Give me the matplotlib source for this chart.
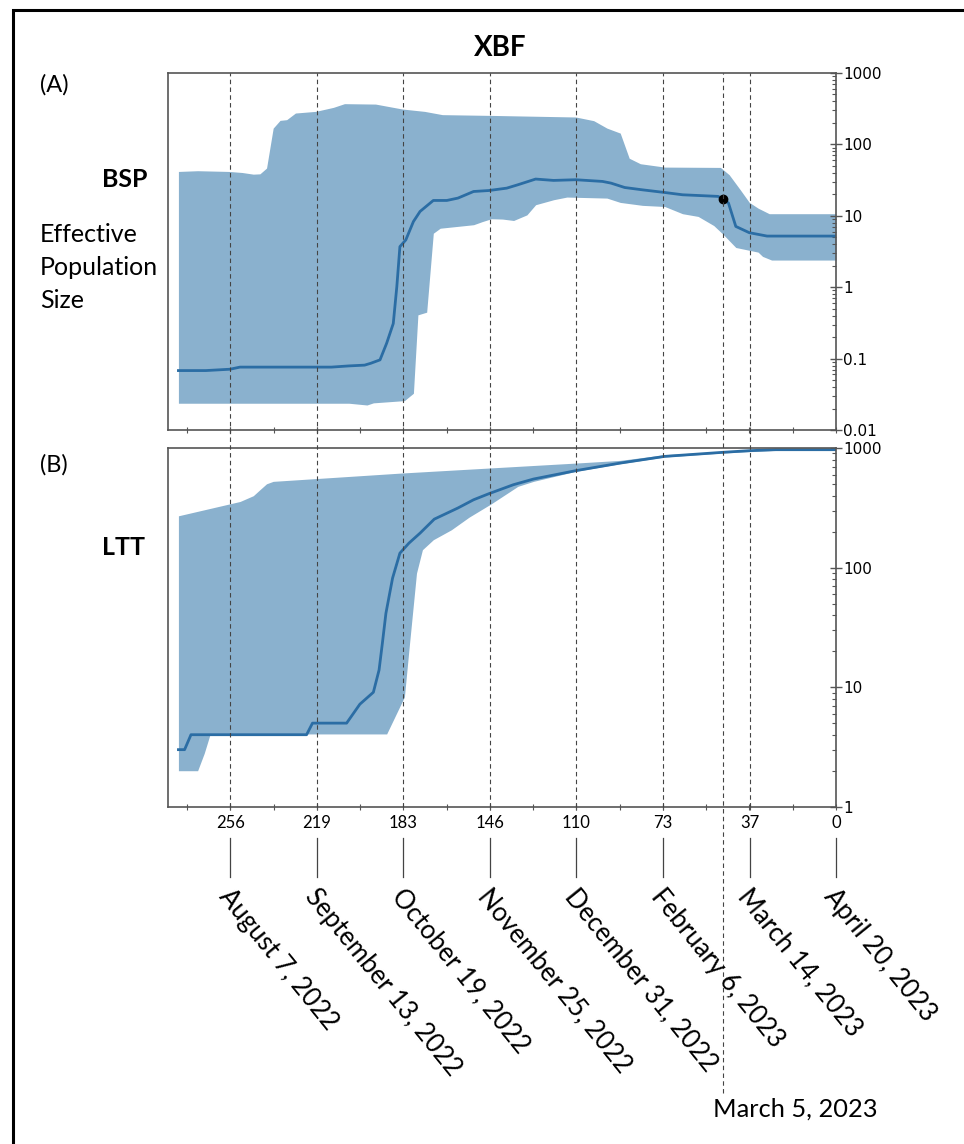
import matplotlib
matplotlib.use("Agg")
import numpy as np
import matplotlib.pyplot as plt
import matplotlib.transforms as mtransforms
from matplotlib.patches import Rectangle
from matplotlib.lines import Line2D

plt.rcParams['font.family'] = ['Lato', 'DejaVu Sans']

# ---- data (days before April 20, 2023) ----
bsp_days = [277.6, 266, 255.8, 251.6, 213, 205.6, 199, 196.4, 192.5, 189.7, 186.9, 185.4, 184.1,
            181.6, 178.4, 175.6, 170, 164.3, 159.6, 153, 146.5, 139, 134.3, 126.8, 119.2, 109.9,
            98.6, 95, 89.2, 81.7, 72.3, 64.8, 49.8, 47.5, 45.4, 42.3, 36.6, 29.1, 0]
bsp_median = [0.068, 0.068, 0.071, 0.076, 0.076, 0.079, 0.081, 0.086, 0.096, 0.164, 0.31, 1.02, 3.7,
              4.6, 8.3, 11.5, 16.4, 16.4, 17.7, 21.9, 22.6, 24.4, 27.2, 32.7, 31.3, 32,
              30.3, 28.7, 24.9, 23.1, 21.2, 19.7, 18.7, 17.1, 15.1, 7.1, 5.8, 5.2, 5.2]

bsp_up_days = [277.6, 269.5, 256.3, 250.7, 246, 243.2, 240.4, 237.6, 234.7, 231.9, 228.2, 219.7,
               212.2, 207.5, 194.4, 183.1, 173.7, 166.2, 146.5, 109.9, 102.3, 96.7, 91.1, 87.3,
               82.6, 72.3, 48.8, 45.1, 40.4, 36.6, 32.9, 28.2, 0]
bsp_upper = [41.8, 42.8, 41.8, 40.4, 38.3, 38.7, 46.6, 169, 217, 222, 275, 290,
             330, 372, 367, 313, 290, 261, 255, 242, 215, 169, 144, 64,
             53.6, 48.1, 47.6, 37.6, 23.1, 15.4, 12.8, 10.7, 10.7]

bsp_lo_days = [277.6, 205.6, 198, 195.3, 182.2, 178.4, 176.5, 172.8, 170, 167.1, 153, 149.3,
               145.5, 140.8, 136.1, 130.5, 126.8, 119.2, 113.6, 96.7, 91.1, 81.7, 72.3, 64.8,
               58.2, 51.6, 47.9, 42.3, 32.9, 31, 27.2, 0]
bsp_lower = [0.0237, 0.0237, 0.0224, 0.024, 0.0258, 0.0327, 0.41, 0.447, 5.7, 6.7, 7.5, 8.3,
             9.1, 9.0, 8.6, 10.3, 14.3, 16.8, 18.3, 17.7, 15.4, 14, 13.5, 10.7,
             9.8, 7.3, 5.6, 3.6, 3.1, 2.7, 2.4, 2.4]

ltt_days = [277.6, 275, 272.3, 223.5, 221, 206.6, 203.8, 201, 195.3, 192.9, 191.5, 190, 187.2,
            184.1, 180.3, 175.6, 169.6, 159.6, 153, 146.5, 136.2, 127.7, 109.9, 91.1, 72.3,
            47.9, 36.6, 25.4, 0]
ltt_median = [3, 3, 4, 4, 5, 5, 6, 7.2, 9.06, 13.9, 23.3, 41.5, 81.6,
              132, 160, 194, 254, 315, 369, 415, 493, 550, 646, 748, 851,
              920, 950, 968, 968]

ltt_up_days = [277.6, 251.6, 246, 243.2, 240.4, 237.6, 183.1, 109.9, 91.1, 72.3, 47.9, 25.4, 0]
ltt_upper = [271, 357, 399, 448, 502, 526, 618, 748, 788, 879, 937, 968, 968]

ltt_lo_days = [277.6, 269.5, 266.7, 264.2, 189.7, 186.9, 182.2, 180.3, 177.1, 174.6, 170, 162.4,
               154.9, 145.5, 134.3, 127.7, 109.9, 91.1, 72.3, 47.9, 25.4, 0]
ltt_lower = [2.0, 2.0, 2.8, 4.06, 4.06, 5.3, 8.3, 20.5, 89.8, 141, 171, 207,
             264, 342, 478, 526, 638, 739, 841, 908, 956, 960]

tick_days = [255.7, 219.15, 182.6, 146.1, 109.6, 73.05, 36.5, 0]
tick_labels = ['256', '219', '183', '146', '110', '73', '37', '0']
date_labels = ['August 7, 2022', 'September 13, 2022', 'October 19, 2022', 'November 25, 2022',
               'December 31, 2022', 'February 6, 2023', 'March 14, 2023', 'April 20, 2023']
minor_days = [18.26 * k for k in range(16)]
mrca_day = 47.5
mrca_value = 17.1
mrca_label = 'March 5, 2023'

W, H = 964, 1144
fill_c = '#8ab1ce'
line_c = '#2b6da4'
spine_c = '#555555'
grid_c = '#444444'


def fx(px):
    return px / W


def fy(py):
    return 1 - py / H


def band(up_x, up_y, lo_x, lo_y):
    # put both bounds on one shared x grid (log-linear) for fill_between
    xs = sorted(set(up_x) | set(lo_x))
    up = np.exp(np.interp(xs, up_x[::-1], np.log(up_y)[::-1]))
    lo = np.exp(np.interp(xs, lo_x[::-1], np.log(lo_y)[::-1]))
    return xs, lo, up


fig = plt.figure(figsize=(W / 100, H / 100), dpi=100)
axA = fig.add_axes([fx(168), fy(430), fx(836) - fx(168), fy(73) - fy(430)])
axB = fig.add_axes([fx(168), fy(806.7), fx(836) - fx(168), fy(448) - fy(806.7)])

xs, lo, up = band(bsp_up_days, bsp_upper, bsp_lo_days, bsp_lower)
axA.fill_between(xs, lo, up, color=fill_c, lw=0)
axA.plot(bsp_days, bsp_median, color=line_c, lw=2)
axA.plot([mrca_day], [mrca_value], 'o', color='black', ms=6)

xs, lo, up = band(ltt_up_days, ltt_upper, ltt_lo_days, ltt_lower)
axB.fill_between(xs, lo, up, color=fill_c, lw=0)
axB.plot(ltt_days, ltt_median, color=line_c, lw=2)

for ax, lims, ticks, labs in [(axA, (0.01, 1000), [0.01, 0.1, 1, 10, 100, 1000],
                               ['0.01', '0.1', '1', '10', '100', '1000']),
                              (axB, (1, 1000), [1, 10, 100, 1000], ['1', '10', '100', '1000'])]:
    ax.set_yscale('log')
    ax.set_ylim(*lims)
    ax.set_xlim(282, 0)
    ax.yaxis.tick_right()
    ax.set_yticks(ticks)
    ax.set_yticklabels(labs, family='DejaVu Sans', fontsize=11)
    ax.tick_params(axis='y', which='major', direction='inout', length=8, width=1, color=spine_c, pad=1)
    ax.tick_params(axis='y', which='minor', direction='in', length=3, width=0.8, color=spine_c)
    ax.set_xticks(tick_days)
    ax.set_xticks(minor_days, minor=True)
    ax.tick_params(axis='x', which='both', direction='inout', length=4, width=0.8, color=spine_c)
    for s in ax.spines.values():
        s.set_color(spine_c)
        s.set_linewidth(1.2)

axA.set_xticklabels([])
axB.set_xticklabels(tick_labels, fontsize=12)
axB.tick_params(axis='x', which='major', pad=4)

# dashed guide lines through both panels
trans = mtransforms.blended_transform_factory(axB.transData, fig.transFigure)
for d in tick_days[:-1]:
    fig.add_artist(Line2D([d, d], [fy(806.7), fy(73)], transform=trans, color=grid_c,
                          lw=0.8, ls=(0, (4, 3))))
fig.add_artist(Line2D([mrca_day, mrca_day], [fy(1093), fy(73)], transform=trans, color=grid_c,
                      lw=0.8, ls=(0, (4, 3))))

# connectors and rotated date labels
lab_trans = mtransforms.offset_copy(trans, fig=fig, x=-7, y=0, units='dots')
for d, lab in zip(tick_days, date_labels):
    fig.add_artist(Line2D([d, d], [fy(877), fy(838)], transform=trans, color=grid_c, lw=0.9))
    fig.text(d, fy(892), lab, transform=lab_trans, rotation=-51, rotation_mode='anchor',
             ha='left', va='center', fontsize=18.5)
m_trans = mtransforms.offset_copy(trans, fig=fig, x=-10, y=0, units='dots')
fig.text(mrca_day, fy(1117), mrca_label, transform=m_trans, ha='left', va='baseline',
         fontsize=18.3)

fig.text(fx(500), fy(48), 'XBF', ha='center', va='center', fontsize=20, fontweight='bold')
fig.text(fx(40), fy(85), '(A)', ha='left', va='center', fontsize=17)
fig.text(fx(40), fy(465), '(B)', ha='left', va='center', fontsize=17)
fig.text(fx(102), fy(180), 'BSP', ha='left', va='center', fontsize=18, fontweight='bold')
fig.text(fx(102), fy(548), 'LTT', ha='left', va='center', fontsize=18, fontweight='bold')
for txt, base in [('Effective', 242), ('Population', 275), ('Size', 308)]:
    fig.text(fx(40), fy(base), txt, ha='left', va='baseline', fontsize=18)

fig.add_artist(Rectangle((fx(13), -0.1), 1.2, fy(10) + 0.1, transform=fig.transFigure,
                         fill=False, ec='black', lw=2.2))

fig.savefig('out.png', dpi=100)
